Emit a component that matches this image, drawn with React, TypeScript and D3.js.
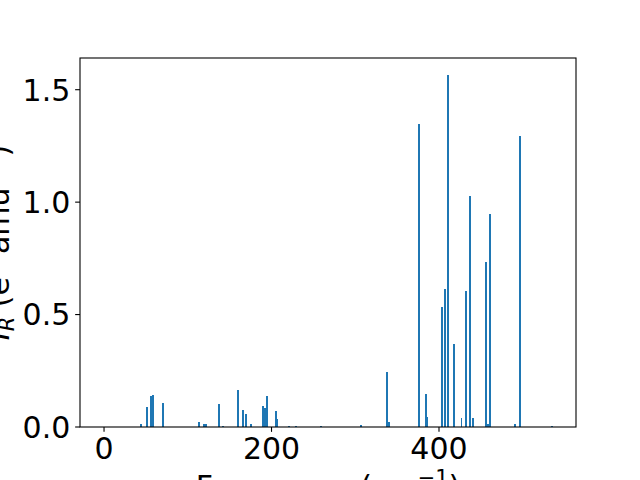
import React from "react";
import * as d3 from "d3";

const frequencies = [
  44.2, 51.3, 56.1, 58.5, 70.4, 113.4, 119.4, 121.8, 137.3, 142, 160, 166, 169.6, 175.5,
  190, 192.2, 194.6, 205.4, 207.2, 221, 229, 259, 307, 337.9, 340.3, 376.5, 384.5, 386,
  403.3, 406.8, 410.4, 418.3, 426.8, 432.2, 437.4, 440.6, 456.1, 458.5, 460.9, 490.7,
  497.1, 535.3,
];
const intensities = [
  0.012, 0.088, 0.137, 0.141, 0.105, 0.021, 0.012, 0.012, 0.101, 0.003, 0.163, 0.074, 0.057,
  0.012, 0.092, 0.083, 0.137, 0.07, 0.034, 0.005, 0.005, 0.005, 0.008, 0.243, 0.021, 1.347,
  0.145, 0.043, 0.533, 0.613, 1.565, 0.368, 0.039, 0.604, 1.027, 0.039, 0.733, 0.012, 0.946,
  0.012, 1.294, 0.005,
];
const xTicks = [0, 200, 400];
const yTicks = [0, 0.5, 1.0, 1.5];

const W = 640;
const H = 480;
const L = 80, R = 576, T = 58, B = 427;
const FONT = "DejaVu Sans, sans-serif";
const FS = 30;
const BAR_W = 2;

export default function App() {
  const x = d3.scaleLinear().domain([-28.7, 563.6]).range([L, R]);
  const y = d3.scaleLinear().domain([0, 1.641]).range([B, T]);
  const bw = x(BAR_W) - x(0);
  const tick = 4.86;

  return (
    <svg
      width={W}
      height={H}
      style={{ position: "absolute", left: 0, top: 0, background: "#fff" }}
      fontFamily={FONT}
    >
      <rect x={0} y={0} width={W} height={H} fill="#fff" />
      <g shapeRendering="crispEdges">
        {frequencies.map((f, i) => (
          <rect
            key={i}
            x={x(f) - bw / 2}
            y={y(intensities[i])}
            width={bw}
            height={y(0) - y(intensities[i])}
            fill="#1f77b4"
          />
        ))}
      </g>
      <rect x={L} y={T} width={R - L} height={B - T} fill="none" stroke="#000" strokeWidth={1.1} />
      {xTicks.map((t) => (
        <g key={t}>
          <line x1={x(t)} x2={x(t)} y1={B} y2={B + tick} stroke="#000" strokeWidth={1.1} />
          <text x={x(t)} y={459} fontSize={FS} textAnchor="middle" fill="#000">
            {t}
          </text>
        </g>
      ))}
      {yTicks.map((t) => (
        <g key={t}>
          <line x1={L - tick} x2={L} y1={y(t)} y2={y(t)} stroke="#000" strokeWidth={1.1} />
          <text x={70.3} y={y(t)} dy="0.36em" fontSize={FS} textAnchor="end" fill="#000">
            {t.toFixed(1)}
          </text>
        </g>
      ))}
      <text x={(L + R) / 2} y={497} fontSize={FS} textAnchor="middle" fill="#000">
        Frequency (cm
        <tspan fontSize={FS * 0.7} dy={-12}>−1</tspan>
        <tspan dy={12}>)</tspan>
      </text>
      <text
        transform={`translate(9, ${(T + B) / 2}) rotate(-90)`}
        fontSize={FS}
        textAnchor="middle"
        fill="#000"
      >
        <tspan fontStyle="italic">I</tspan>
        <tspan fontStyle="italic" fontSize={FS * 0.7} dy={5}>R</tspan>
        <tspan dy={-5}> (e</tspan>
        <tspan fontSize={FS * 0.7} dy={-12}>2</tspan>
        <tspan dy={12}> amu</tspan>
        <tspan fontSize={FS * 0.7} dy={-12}>−1</tspan>
        <tspan dy={12}>)</tspan>
      </text>
    </svg>
  );
}
